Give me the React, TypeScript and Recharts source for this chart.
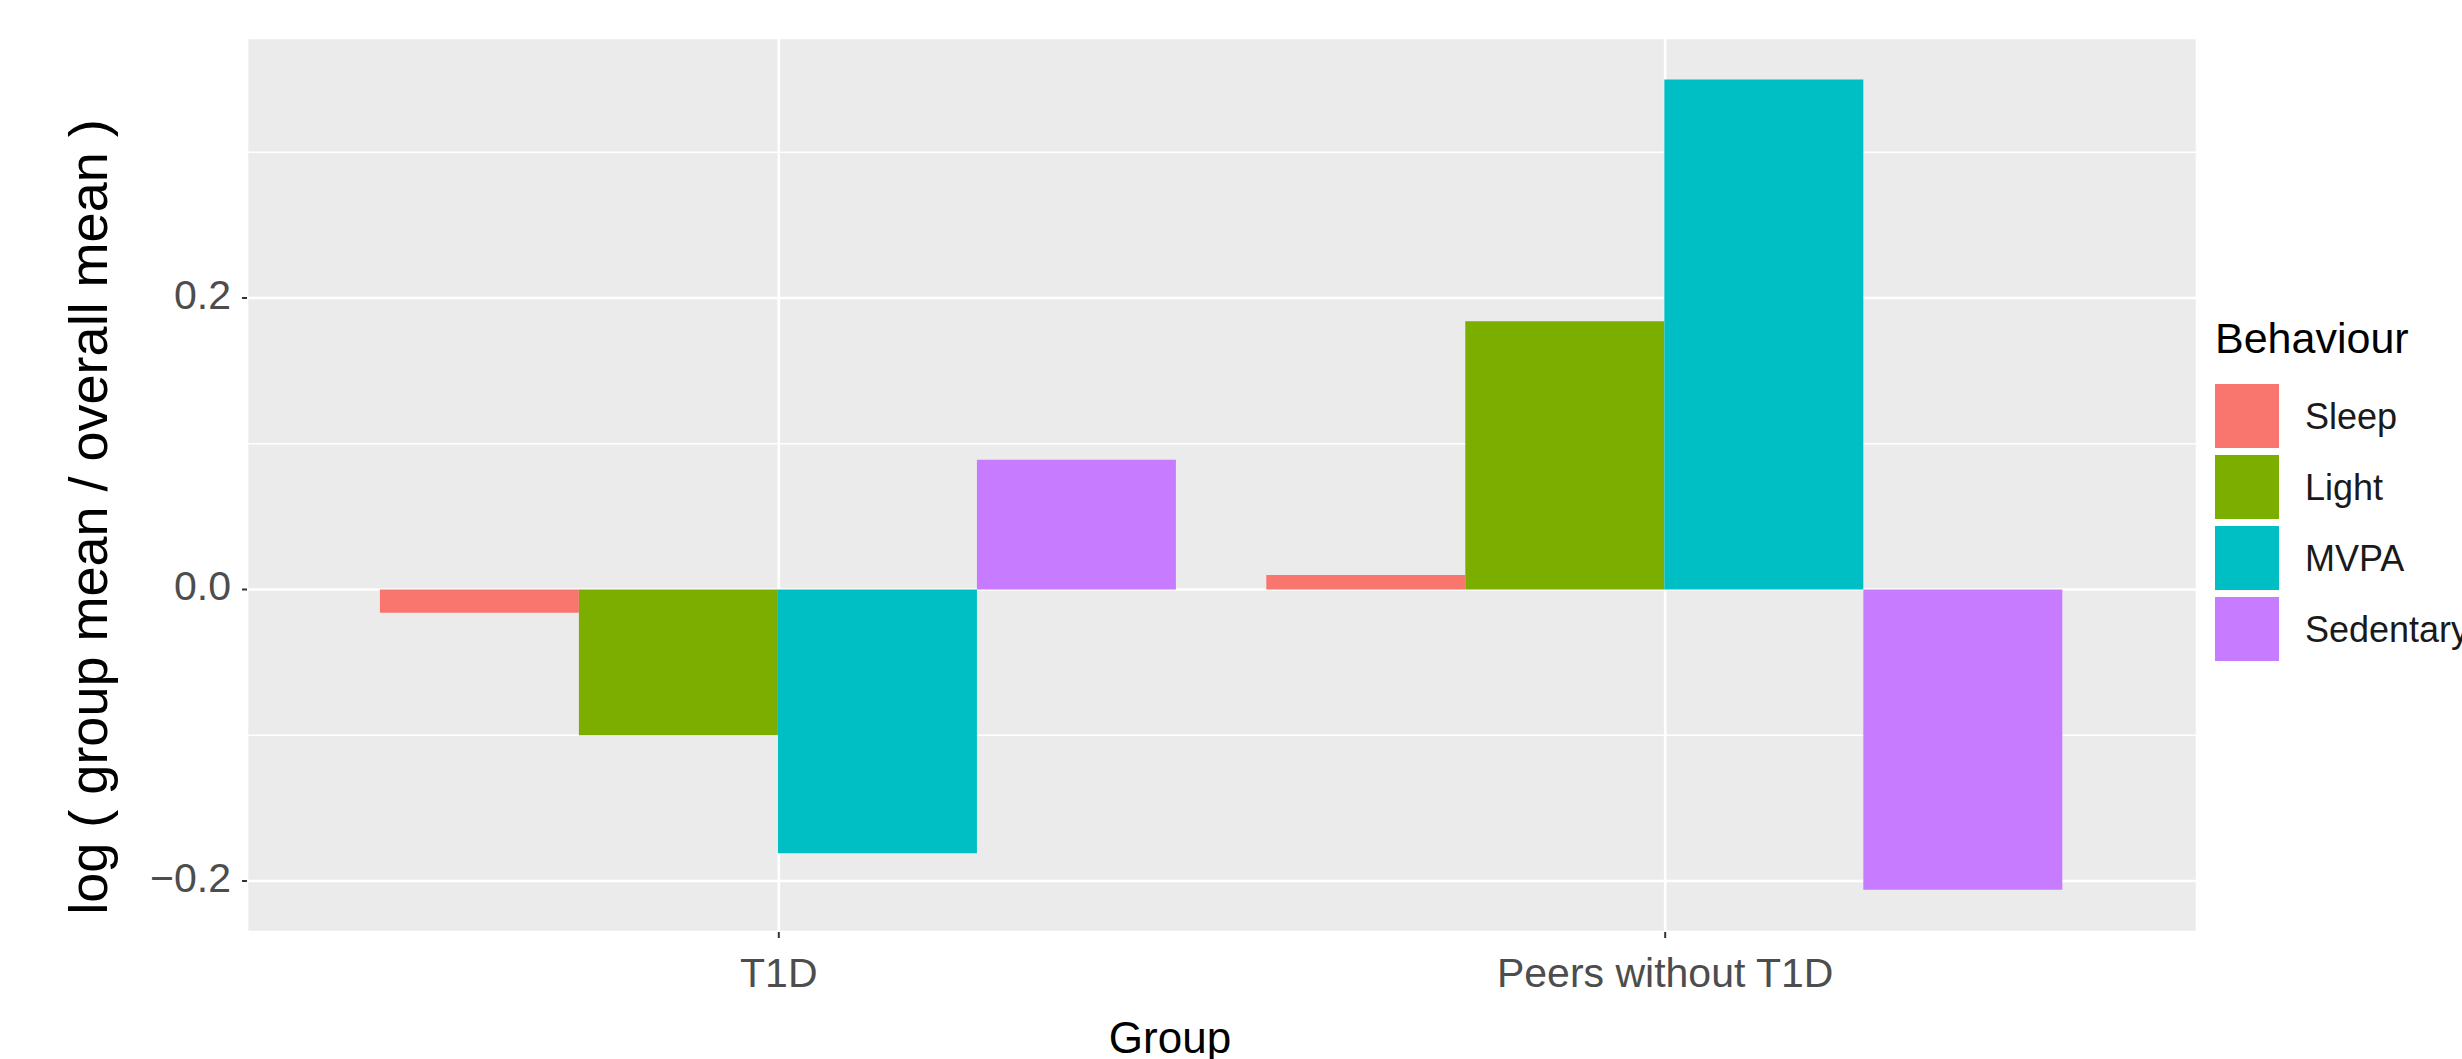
import React from 'react';
import { BarChart, Bar, XAxis, YAxis, CartesianGrid } from 'recharts';

const groups = ['T1D', 'Peers without T1D'];
const behaviours = ['Sleep', 'Light', 'MVPA', 'Sedentary'];
const sleepValues = [-0.016, 0.01];
const lightValues = [-0.1, 0.184];
const mvpaValues = [-0.181, 0.35];
const sedentaryValues = [0.089, -0.206];
const yTicks = [-0.2, 0, 0.2];
const yMinorBreaks = [-0.1, 0.1, 0.3];
const yDomain = [-0.235, 0.3784];
const colors = ['#F8766D', '#7CAE00', '#00BFC4', '#C77CFF'];
const xTitle = 'Group';
const yTitle = 'log ( group mean / overall mean )';
const legendTitle = 'Behaviour';

const seriesValues = [sleepValues, lightValues, mvpaValues, sedentaryValues];
const data = groups.map((g, i) => {
  const row: Record<string, any> = { group: g };
  behaviours.forEach((b, j) => {
    row[b] = seriesValues[j][i];
  });
  return row;
});

const FONT = '"Liberation Sans", Arial, Helvetica, sans-serif';

const fmt = (v: number) => {
  if (Math.abs(v) < 1e-9) return '0.0';
  return v < 0 ? '\u2212' + Math.abs(v).toFixed(1) : v.toFixed(1);
};

const YTitle = () => (
  <text
    x={107}
    y={517}
    transform="rotate(-90 107 517)"
    textAnchor="middle"
    fontSize={54}
    fill="#000000"
    fontFamily={FONT}
  >
    {yTitle}
  </text>
);

const XTitle = () => (
  <text x={1170} y={1053} textAnchor="middle" fontSize={44} fill="#000000" fontFamily={FONT}>
    {xTitle}
  </text>
);

const LegendBox = () => (
  <svg width={272} height={400} style={{ display: 'block', overflow: 'hidden' }}>
    <text x={25} y={53} fontSize={43} fill="#000000" fontFamily={FONT}>
      {legendTitle}
    </text>
    {behaviours.map((b, i) => (
      <g key={b}>
        <rect x={25} y={84 + 71 * i} width={64} height={64} fill={colors[i]} />
        <text x={115} y={116 + 71 * i} dy={13} fontSize={36} fill="#1A1A1A" fontFamily={FONT}>
          {b}
        </text>
      </g>
    ))}
  </svg>
);

export default function App() {
  return (
    <div
      style={{
        position: 'absolute',
        left: 0,
        top: 0,
        width: 2462,
        height: 1059,
        background: '#FFFFFF',
        fontFamily: FONT,
      }}
    >
      <BarChart
        width={2462}
        height={1059}
        data={data}
        margin={{ top: 38, right: 265, bottom: 0, left: 0 }}
        barCategoryGap="5%"
        barGap={0}
      >
        <CartesianGrid fill="#EBEBEB" stroke="#FFFFFF" strokeWidth={2.6} />
        <CartesianGrid
          vertical={false}
          horizontalValues={yMinorBreaks}
          stroke="#FFFFFF"
          strokeWidth={1.3}
          fill="none"
        />
        <XAxis
          dataKey="group"
          type="category"
          interval={0}
          height={127}
          padding={{ left: 88.6, right: 88.6 }}
          axisLine={false}
          tickSize={6}
          tickMargin={20}
          tickLine={{ stroke: '#333333', strokeWidth: 2 }}
          tick={{ fill: '#4D4D4D', fontSize: 41, fontFamily: FONT }}
          label={{ content: () => <XTitle /> }}
        />
        <YAxis
          type="number"
          width={247}
          domain={yDomain}
          ticks={yTicks}
          allowDataOverflow
          tickFormatter={fmt}
          axisLine={false}
          tickSize={5}
          tickMargin={11}
          tickLine={{ stroke: '#333333', strokeWidth: 2 }}
          tick={{ fill: '#4D4D4D', fontSize: 41, fontFamily: FONT, dy: -4 }}
          label={{ content: () => <YTitle /> }}
        />
        {behaviours.map((b, i) => (
          <Bar key={b} dataKey={b} fill={colors[i]} isAnimationActive={false} />
        ))}
      </BarChart>
      <div style={{ position: 'absolute', left: 2190, top: 300, width: 272, height: 400 }}>
        <LegendBox />
      </div>
    </div>
  );
}
